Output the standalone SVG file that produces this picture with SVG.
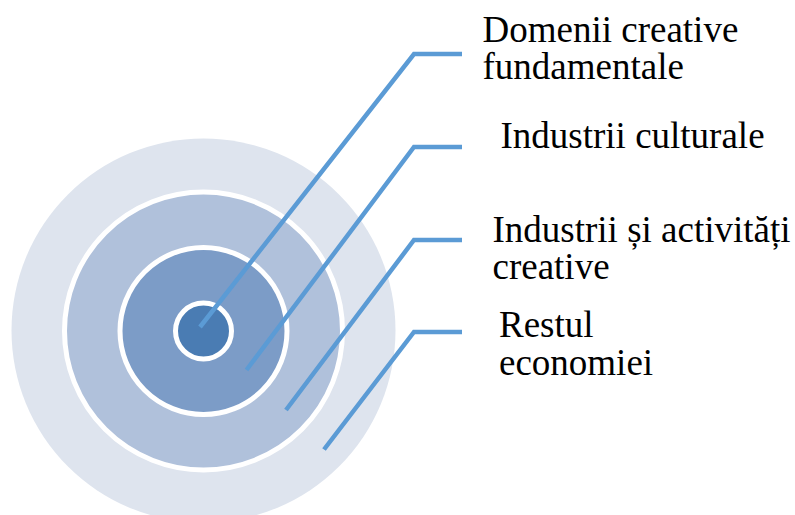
<svg xmlns="http://www.w3.org/2000/svg" width="795" height="515" viewBox="0 0 795 515">
<style>
text{font-family:'Liberation Serif','Tinos','Times New Roman','DejaVu Serif',serif;font-size:37px;fill:#000}
.ring{stroke:#fff;stroke-width:5}
.conn{fill:none;stroke:#5B9BD5;stroke-width:4.5;stroke-linejoin:miter}
</style>
<rect width="795" height="515" fill="#fff"/>
<g id="ring-rest"><circle cx="203.5" cy="330.5" r="192" fill="#DEE4EE"/></g>
<g id="ring-creative"><circle class="ring" cx="203.5" cy="331" r="139" fill="#B0C1DB"/></g>
<g id="ring-cultural"><circle class="ring" cx="203.5" cy="331" r="83.5" fill="#7C9CC7"/></g>
<g id="ring-core"><circle class="ring" cx="203.5" cy="331" r="28" fill="#4A7CB3"/></g>
<g id="connectors">
<polyline class="conn" points="200,327 414,54 462,54"/>
<polyline class="conn" points="246.5,370 414,147 462,147"/>
<polyline class="conn" points="286,410 414,240 462,240"/>
<polyline class="conn" points="324,449.5 414,332 462,332"/>
</g>
<g id="label-core" font-family="Liberation Serif, serif"><text x="482.5" y="41.7">Domenii creative</text><text x="482.5" y="79.3">fundamentale</text></g>
<g id="label-cultural"><text x="500.5" y="148">Industrii culturale</text></g>
<g id="label-creative"><text x="492.5" y="241.7">Industrii și activități</text><text x="492.5" y="279.3">creative</text></g>
<g id="label-rest"><text x="499" y="337.3">Restul</text><text x="499" y="375">economiei</text></g>
</svg>
